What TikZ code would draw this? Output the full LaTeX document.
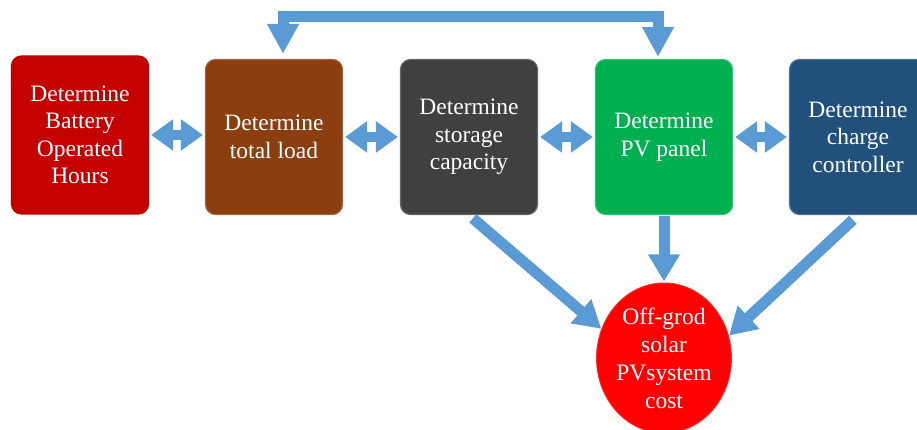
\documentclass[tikz,border=0pt]{standalone}
\usepackage{fontspec}
\newfontfamily\boxfont{Liberation Serif}
\usetikzlibrary{arrows.meta,shapes.geometric}
\definecolor{cRed}{RGB}{196,0,0}
\definecolor{cBrown}{RGB}{139,62,16}
\definecolor{cGray}{RGB}{64,64,64}
\definecolor{cGreen}{RGB}{0,176,80}
\definecolor{cBlue}{RGB}{33,80,124}
\definecolor{cEll}{RGB}{255,0,0}
\definecolor{cArrow}{RGB}{91,155,213}
\begin{document}
\begin{tikzpicture}[x=1pt,y=1pt,
  box/.style={rectangle,rounded corners=10pt,minimum width=137pt,minimum height=155pt,
    inner sep=0pt,align=center,text=white,font=\boxfont\fontsize{23.5}{27.5}\selectfont},
  dbl/.style={draw=cArrow,line width=10pt,{Triangle[width=30pt,length=22pt]}-{Triangle[width=30pt,length=22pt]},shorten <=2pt,shorten >=2pt},
  big/.style={draw=cArrow,line width=11pt,-{Triangle[width=30pt,length=27pt]}},
]
\useasboundingbox (0,0) rectangle (917,430);
\clip (0,0) rectangle (917,430);
\node[box,fill=cRed,draw=red!75!black,line width=1.2pt,minimum height=158pt] (bat) at (80,295) {Determine\\Battery\\Operated\\Hours};
\node[box,fill=cBrown,draw=cBrown!80!white,line width=1.2pt] (load) at (274,293) {Determine\\total load};
\node[box,fill=cGray,draw=cGray!80!white,line width=1.2pt] (stor) at (469,293) {Determine\\storage\\capacity};
\node[box,fill=cGreen,draw=cGreen!80!white,line width=1.2pt] (pv) at (664,293) {Determine\\PV panel};
\node[box,fill=cBlue,draw=cBlue!80!white,line width=1.2pt] (cc) at (858,293) {Determine\\charge\\controller};
\node[ellipse,fill=cEll,draw=red!85!white,line width=1pt,minimum width=130pt,minimum height=150pt,inner sep=0pt,
  align=center,text=white,font=\boxfont\fontsize{23.5}{28}\selectfont] (cost) at (664,72) {Off-grod\\solar\\PVsystem\\cost};
% double arrows
\draw[dbl] (bat.east) -- (load.west |- bat.east);
\draw[dbl] (load) -- (stor);
\draw[dbl] (stor) -- (pv);
\draw[dbl] (pv) -- (cc);
% top feedback arrow
\coordinate (tl) at (283,413);
\coordinate (tr) at (658,413);
\draw[draw=cArrow,line width=11pt,line join=miter,{Triangle[width=30pt,length=30pt]}-{Triangle[width=30pt,length=30pt]},shorten <=5pt,shorten >=2pt]
  (tl |- load.north) -- (tl) -- (tr) -- (tr |- pv.north);
% arrows into cost
\draw[big,shorten <=5pt] (stor.south) -- (cost.155);
\draw[big,shorten <=1pt,shorten >=1pt] (pv.south) -- (cost.north);
\draw[big,shorten <=7pt] (cc.south) -- (cost.19);
\end{tikzpicture}
\end{document}
